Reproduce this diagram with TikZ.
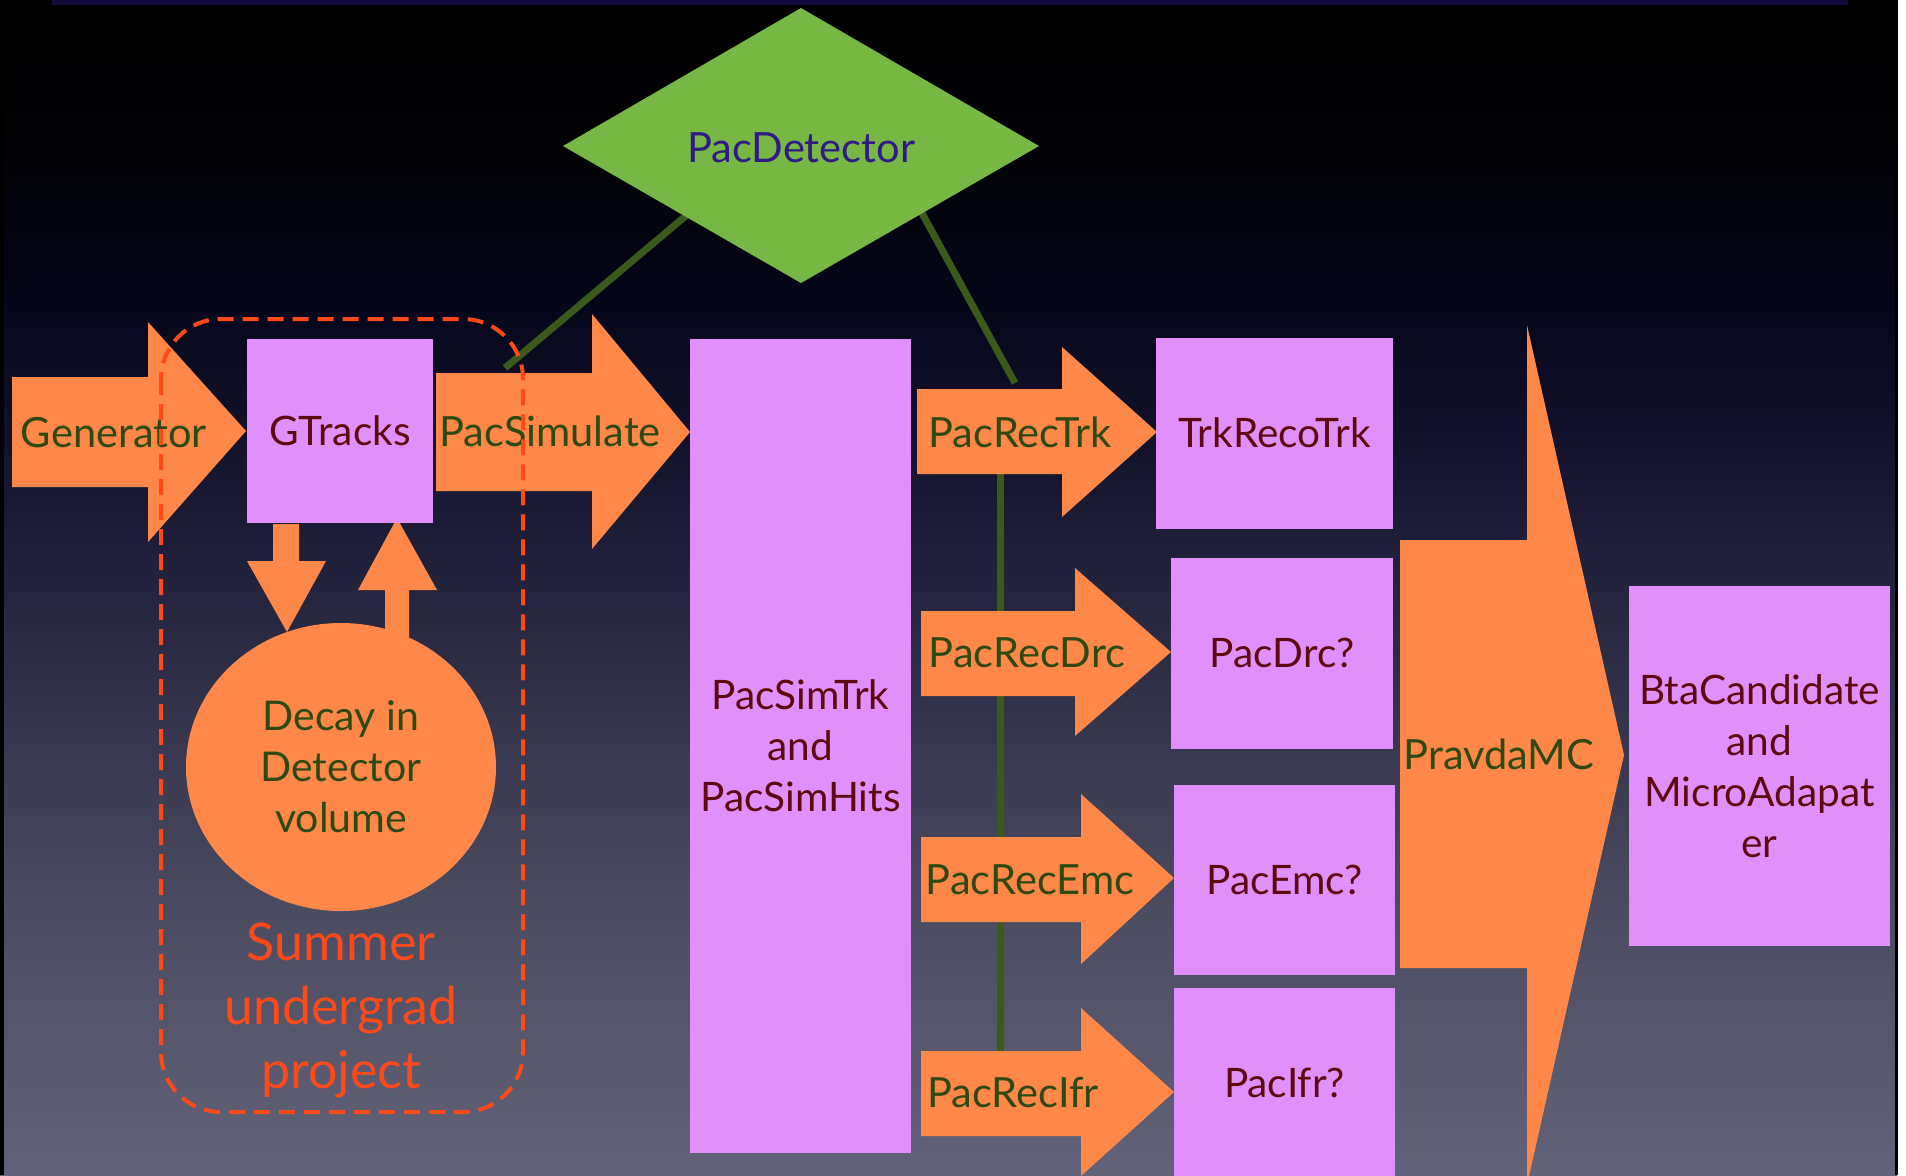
\documentclass[tikz,border=0pt]{standalone}
\usepackage{fontspec}
\setmainfont{Lato}
\usetikzlibrary{shapes.geometric}
\definecolor{orangeF}{HTML}{FF8747}
\definecolor{pinkF}{HTML}{E190FB}
\definecolor{diaF}{HTML}{76B843}
\definecolor{lineG}{HTML}{3B5A1A}
\definecolor{txtG}{HTML}{2E4A12}
\definecolor{txtM}{HTML}{5C0A10}
\definecolor{txtI}{HTML}{301A85}
\definecolor{txtR}{HTML}{FF4A17}
\definecolor{topbar}{HTML}{140A3C}
\definecolor{bgA}{HTML}{020206}
\definecolor{bgB}{HTML}{05051A}
\definecolor{bgC}{HTML}{13132E}
\definecolor{bgD}{HTML}{25253F}
\definecolor{bgE}{HTML}{4A4B60}
\definecolor{bgF}{HTML}{62637A}
\pgfdeclareverticalshading{slidebg}{100bp}{color(0bp)=(bgF); color(25bp)=(bgF); color(36.7bp)=(bgE); color(49.5bp)=(bgD); color(55.9bp)=(bgC); color(62.2bp)=(bgB); color(68.6bp)=(bgA); color(75bp)=(black); color(100bp)=(black)}
\begin{document}
\begin{tikzpicture}[x=0.5pt,y=-0.5pt,
  arr/.style={fill=orangeF},
  box/.style={fill=pinkF, inner sep=0pt, text=txtM, font=\fontsize{20.3}{25.5}\selectfont, align=center},
  capc/.style={text height=14.5pt, text depth=0pt},
  atext/.style={text=txtG, inner sep=0pt, font=\fontsize{20.8}{25.5}\selectfont, capc},
  conn/.style={draw=lineG, line width=3.5pt},
]
\useasboundingbox (0,0) rectangle (1906,1175);
\fill[white] (0,0) rectangle (1906,1175);
\shade[shading=slidebg] (0,0) rectangle (1897,1175);
\fill[black] (0,0) rectangle (4,1175);
\fill[black] (1895,0) rectangle (1898,1175);
\fill[topbar] (52,0) rectangle (1848,5);

% connectors from the detector
\coordinate (pdL) at (688,214);
\coordinate (psTop) at (505,368);
\coordinate (pdR) at (918,206);
\coordinate (prtTop) at (1015,383);
\coordinate (trkBot) at (1000,470);
\coordinate (ifrTop) at (1000,1055);
\draw[conn] (pdL) -- (psTop);
\draw[conn] (pdR) -- (prtTop);
\draw[conn] (trkBot) -- (ifrTop);

% detector diamond
\fill[diaF] (801,8) -- (1039,146) -- (801,283) -- (563,146) -- cycle;
\node[text=txtI, inner sep=0pt, font=\fontsize{20.8}{24}\selectfont, capc] (pd) at (801,148) {PacDetector};

% big arrows
\fill[arr] (12,377) -- (148,377) -- (148,322) -- (246,431) -- (148,542) -- (148,487) -- (12,487) -- cycle;
\fill[arr] (436,373) -- (592,373) -- (592,314) -- (690,432) -- (592,549) -- (592,491) -- (436,491) -- cycle;
\fill[arr] (917,389) -- (1062,389) -- (1062,347) -- (1157,432) -- (1062,517) -- (1062,474) -- (917,474) -- cycle;
\fill[arr] (921,611) -- (1075,611) -- (1075,568) -- (1171,652) -- (1075,736) -- (1075,696) -- (921,696) -- cycle;
\fill[arr] (921,837) -- (1081,837) -- (1081,794) -- (1174,878) -- (1081,964) -- (1081,922) -- (921,922) -- cycle;
\fill[arr] (921,1051) -- (1081,1051) -- (1081,1008) -- (1174,1092) -- (1081,1176) -- (1081,1136) -- (921,1136) -- cycle;
\fill[arr] (1400,540) -- (1527,540) -- (1527,325) -- (1624,755) -- (1527,1185) -- (1527,968) -- (1400,968) -- cycle;

% small arrows between GTracks and the decay volume
\fill[arr] (273,524) -- (299,524) -- (299,561) -- (326,561) -- (287,632) -- (247,561) -- (273,561) -- cycle;
\fill[arr] (385,650) -- (385,590) -- (358,590) -- (397,518) -- (437,590) -- (409,590) -- (409,650) -- cycle;

% decay ellipse
\node[ellipse, fill=orangeF, inner sep=0pt, minimum width=155pt, minimum height=144pt,
      text=txtG, align=center, font=\fontsize{20.5}{25.5}\selectfont] (decay) at (341,767) {Decay in\\Detector\\volume};

% boxes
\node[box, capc, minimum width=93pt, minimum height=92pt] (gtracks) at (340,431) {GTracks};
\node[box, minimum width=110.5pt, minimum height=407pt] (pacsimtrk) at (800.5,746) {PacSimTrk\\and\\PacSimHits};
\node[box, capc, minimum width=118.5pt, minimum height=95.5pt] (trkreco) at (1274.5,433) {TrkRecoTrk};
\node[box, capc, minimum width=111pt, minimum height=95.5pt] (pacdrc) at (1282,653) {PacDrc?};
\node[box, capc, minimum width=110.5pt, minimum height=95pt] (pacemc) at (1284.5,880) {PacEmc?};
\node[box, capc, minimum width=110.5pt, minimum height=95pt] (pacifr) at (1284.5,1083) {PacIfr?};
\node[box, minimum width=130.5pt, minimum height=180pt] (bta) at (1759.5,766) {BtaCandidate\\and\\MicroAdapat\\er};

% arrow labels
\node[atext] (gen) at (114,433) {Generator};
\node[atext] (pacsim) at (550,432) {PacSimulate};
\node[atext] (prtrk) at (1020,433) {PacRecTrk};
\node[atext] (prdrc) at (1027,653) {PacRecDrc};
\node[atext] (premc) at (1030,880) {PacRecEmc};
\node[atext] (prifr) at (1013,1093) {PacRecIfr};
\node[atext] (pravda) at (1499,755) {PravdaMC};

% summer project outline
\draw[txtR, line width=2pt, dash pattern=on 8pt off 4.5pt, rounded corners=30pt] (161,319) rectangle (523,1112);
\node[text=txtR, align=center, inner sep=0pt, font=\fontsize{26}{32}\selectfont] (summer) at (341,1010) {Summer\\undergrad\\project};
\end{tikzpicture}
\end{document}
